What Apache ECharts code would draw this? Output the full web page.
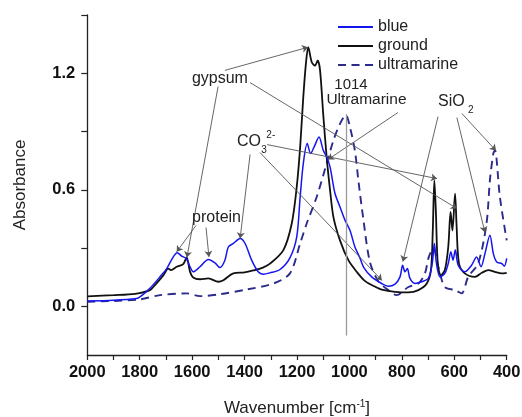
<!DOCTYPE html>
<html>
<head>
<meta charset="utf-8">
<script src="https://cdn.jsdelivr.net/npm/echarts@6/dist/echarts.min.js"></script>
<style>
  html, body { margin: 0; padding: 0; background: #fff; }
  #chart { width: 522px; height: 417px; }
</style>
</head>
<body>
<div id="chart"></div>
<script>
//*************** data: [wavenumber, absorbance] ***************
var blue = [
    [2000, 0.028], [1900, 0.032], [1812, 0.041], [1799, 0.049], [1780, 0.07], [1761, 0.093],
    [1723, 0.152], [1697, 0.195], [1672, 0.255], [1657, 0.276], [1640, 0.259], [1623, 0.247],
    [1608, 0.204], [1596, 0.178], [1570, 0.204], [1538, 0.242], [1513, 0.224], [1494, 0.2],
    [1475, 0.238], [1462, 0.306], [1443, 0.324], [1417, 0.35], [1398, 0.324], [1373, 0.238],
    [1348, 0.178], [1329, 0.166], [1303, 0.173], [1265, 0.19], [1227, 0.25], [1201, 0.358],
    [1188, 0.563], [1176, 0.735], [1161, 0.838], [1148, 0.787], [1135, 0.82], [1116, 0.872],
    [1100, 0.804], [1087, 0.77], [1074, 0.718], [1055, 0.581], [1036, 0.512], [1017, 0.444],
    [998, 0.392], [979, 0.306], [960, 0.25], [945, 0.2], [915, 0.152], [877, 0.118],
    [852, 0.104], [826, 0.115], [807, 0.152], [797, 0.212], [788, 0.178], [779, 0.195],
    [769, 0.144], [750, 0.118], [724, 0.127], [699, 0.144], [684, 0.221], [676, 0.324],
    [668, 0.221], [654, 0.152], [636, 0.17], [623, 0.221], [613, 0.281], [605, 0.238],
    [596, 0.29], [585, 0.212], [560, 0.178], [534, 0.212], [515, 0.255], [498, 0.204],
    [483, 0.272], [464, 0.367], [451, 0.272], [438, 0.229], [419, 0.221], [409, 0.207], [400, 0.247]
];
var ground = [
    [2000, 0.052], [1900, 0.058], [1818, 0.065], [1761, 0.084], [1742, 0.11], [1710, 0.16],
    [1691, 0.195], [1681, 0.187], [1659, 0.204], [1634, 0.218], [1621, 0.252], [1608, 0.178],
    [1596, 0.149], [1570, 0.14], [1538, 0.144], [1500, 0.127], [1481, 0.135], [1443, 0.17],
    [1400, 0.175], [1367, 0.185], [1330, 0.2], [1303, 0.22], [1252, 0.29], [1220, 0.427],
    [1201, 0.615], [1188, 0.82], [1176, 1.078], [1166, 1.25], [1157, 1.335], [1144, 1.258],
    [1131, 1.24], [1121, 1.266], [1112, 1.215], [1100, 0.99], [1087, 0.77], [1074, 0.6],
    [1061, 0.46], [1036, 0.34], [1004, 0.238], [972, 0.178], [940, 0.13], [900, 0.1],
    [877, 0.087], [826, 0.075], [775, 0.072], [737, 0.084], [705, 0.118], [689, 0.187],
    [682, 0.39], [676, 0.65], [670, 0.48], [663, 0.22], [651, 0.16], [636, 0.187],
    [623, 0.306], [614, 0.486], [607, 0.39], [597, 0.58], [591, 0.41], [582, 0.22],
    [560, 0.17], [521, 0.152], [495, 0.173], [470, 0.187], [445, 0.178], [419, 0.17], [400, 0.173]
];
var ultramarine = [
    [2000, 0.024], [1900, 0.028], [1799, 0.036], [1723, 0.058], [1621, 0.067], [1570, 0.053],
    [1494, 0.063], [1392, 0.087], [1290, 0.118], [1227, 0.17], [1188, 0.324], [1163, 0.427],
    [1125, 0.563], [1087, 0.735], [1061, 0.855], [1036, 0.94], [1014, 0.985], [998, 0.923],
    [979, 0.8], [966, 0.65], [947, 0.45], [922, 0.23], [890, 0.13], [852, 0.084],
    [820, 0.058], [775, 0.1], [737, 0.118], [712, 0.17], [697, 0.255], [680, 0.3],
    [660, 0.2], [636, 0.1], [597, 0.084], [572, 0.067], [547, 0.152], [509, 0.221],
    [477, 0.427], [464, 0.65], [451, 0.787], [445, 0.804], [426, 0.563], [400, 0.34]
];

// tick values
var yTicks = [0, 0.3, 0.6, 0.9, 1.2, 1.5];
var yLabels = [0, 0.6, 1.2];

// annotation arrows: [from, to]
var arrows = [
    [[1475, 1.215], [1158, 1.334]],
    [[1501, 1.132], [1620, 0.252]],
    [[1379, 1.152], [590, 0.504]],
    [[1585, 0.417], [1659, 0.281]],
    [[1547, 0.406], [1536, 0.255]],
    [[1314, 0.833], [666, 0.658]],
    [[1341, 0.792], [876, 0.134]],
    [[1379, 0.782], [1417, 0.35]],
    [[815, 0.998], [1082, 0.756]],
    [[662, 0.977], [796, 0.231]],
    [[590, 0.972], [483, 0.381]],
    [[571, 0.993], [441, 0.802]]
];
var line1014 = [[1014, 0.99], [1014, -0.15]];

// annotation texts: [x, y, text, size]
var notes = [
    [1494, 1.174, 'gypsum', 16],
    [1507, 0.459, 'protein', 16],
    [1383, 0.847, 'CO', 16],
    [1326, 0.804, '3', 10],
    [1300, 0.881, '2-', 10],
    [994, 1.143, '1014', 15],
    [935, 1.066, 'Ultramarine', 15.5],
    [611, 1.053, 'SiO', 16],
    [537, 1.009, '2', 10]
];

//*************** chart ***************
var chart_dom = document.getElementById('chart');
var chart = echarts.init(chart_dom, null, {renderer: 'canvas'});

var font = 'Liberation Sans, Arial, sans-serif';

var arrowLines = arrows.map(function (a) {
    return [{coord: a[0]}, {coord: a[1]}];
});
arrowLines.push([
    {coord: line1014[0], symbol: 'none', lineStyle: {color: '#9a9a9a', width: 1.3}},
    {coord: line1014[1], symbol: 'none'}
]);

var notePoints = notes.map(function (n) {
    return {
        coord: [n[0], n[1]],
        name: n[2],
        label: {fontSize: n[3]}
    };
});

var option = {
    animation: false,
    grid: {left: 87.3, right: 15.3, top: 15, bottom: 62, containLabel: false, outerBoundsMode: 'none'},
    legend: {
        orient: 'vertical',
        left: 337,
        top: 19,
        padding: 0,
        itemWidth: 35,
        itemHeight: 14,
        itemGap: 3,
        itemStyle: {opacity: 0},
        data: ['blue', 'ground', 'ultramarine'],
        textStyle: {fontFamily: font, fontSize: 16, color: '#222'}
    },
    xAxis: {
        type: 'value',
        inverse: true,
        min: 400,
        max: 2000,
        interval: 200,
        name: 'Wavenumber [cm{sup|-1}]',
        nameLocation: 'middle',
        nameGap: 44,
        nameTextStyle: {
            fontFamily: font, fontSize: 17, color: '#222',
            rich: {sup: {fontFamily: font, fontSize: 10, color: '#222', verticalAlign: 'top', padding: [0, 0, 8, 0]}}
        },
        axisLine: {onZero: false, lineStyle: {color: '#222', width: 1.3}},
        axisTick: {length: 5, lineStyle: {color: '#222', width: 1.2}},
        minorTick: {show: true, splitNumber: 2, length: 5, lineStyle: {color: '#222', width: 1.2}},
        axisLabel: {
            fontFamily: font, fontSize: 16.5, fontWeight: 'bold', color: '#111', margin: 9,
            formatter: function (v) { return String(v); }
        },
        splitLine: {show: false}
    },
    yAxis: {
        type: 'value',
        min: -0.25,
        max: 1.5,
        name: 'Absorbance',
        nameLocation: 'middle',
        nameGap: 58,
        nameTextStyle: {fontFamily: font, fontSize: 17, color: '#222'},
        axisLine: {show: true, onZero: false, lineStyle: {color: '#222', width: 1.3}},
        axisTick: {show: true, length: 6, customValues: yTicks, lineStyle: {color: '#222', width: 1.2}},
        axisLabel: {
            customValues: yLabels,
            fontFamily: font, fontSize: 16.5, fontWeight: 'bold', color: '#111', margin: 12,
            formatter: function (v) { return v.toFixed(1); }
        },
        splitLine: {show: false}
    },
    series: [
        {
            name: 'ultramarine',
            type: 'line',
            symbol: 'none',
            smooth: 0.3,
            data: ultramarine,
            itemStyle: {color: '#2b2b8c'},
            lineStyle: {color: '#2b2b8c', width: 1.9, type: [8, 5.5]},
            z: 2
        },
        {
            name: 'ground',
            type: 'line',
            symbol: 'none',
            smooth: 0.3,
            data: ground,
            itemStyle: {color: '#111'},
            lineStyle: {color: '#111', width: 1.8},
            z: 3
        },
        {
            name: 'blue',
            type: 'line',
            symbol: 'none',
            smooth: 0.3,
            data: blue,
            itemStyle: {color: '#1515f0'},
            lineStyle: {color: '#1515f0', width: 1.5},
            z: 4
        },
        {
            name: 'notes',
            type: 'line',
            data: [],
            z: 5,
            markLine: {
                silent: true,
                symbol: ['none', 'arrow'],
                symbolSize: 6,
                label: {show: false},
                lineStyle: {color: '#555', width: 0.9, type: 'solid'},
                emphasis: {disabled: true},
                data: arrowLines
            },
            markPoint: {
                silent: true,
                symbol: 'circle',
                symbolSize: 1,
                itemStyle: {color: 'rgba(0,0,0,0)'},
                label: {
                    show: true,
                    position: 'inside',
                    formatter: '{b}',
                    fontFamily: font,
                    color: '#222'
                },
                data: notePoints
            }
        }
    ]
};

chart.setOption(option);
</script>
</body>
</html>
